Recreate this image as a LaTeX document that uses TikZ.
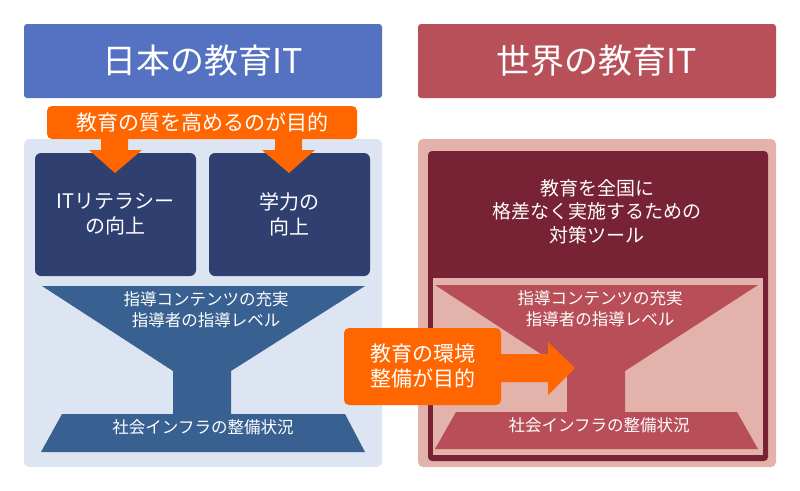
\documentclass[tikz,border=0pt]{standalone}
\usepackage{fontspec}
\setmainfont{Noto Sans CJK JP}
\definecolor{hblue}{HTML}{5472C1}
\definecolor{hred}{HTML}{B8505A}
\definecolor{lpanel}{HTML}{DCE5F1}
\definecolor{rpanel}{HTML}{E3B2AA}
\definecolor{navy}{HTML}{2E3F70}
\definecolor{fblue}{HTML}{386091}
\definecolor{maroon}{HTML}{782236}
\definecolor{fred}{HTML}{B84F58}
\definecolor{orng}{HTML}{FF6600}
\tikzset{
  hdr/.style={rectangle, rounded corners=3pt, text=white, inner sep=0pt,
    minimum width=358pt, minimum height=74pt, font=\fontsize{34}{40}\selectfont},
  panel/.style={rectangle, rounded corners=5pt, inner sep=0pt, minimum width=358pt, minimum height=328pt},
  darkbox/.style={rectangle, rounded corners=6pt, fill=navy, text=white, inner sep=0pt,
    minimum width=161pt, minimum height=123pt, align=center, font=\fontsize{20}{25}\selectfont},
  ftext/.style={text=white, inner sep=0pt, font=\fontsize{16.5}{20}\selectfont},
  obox/.style={rectangle, rounded corners=5pt, fill=orng, text=white, inner sep=0pt},
  blockarrow/.style={fill=orng},
}
\begin{document}
\begin{tikzpicture}[x=1pt,y=-1pt]
\useasboundingbox (0,0) rectangle (800,490);
% headers
\node[hdr, fill=hblue] (jp) at (203,61) {日本の教育IT};
\node[hdr, fill=hred] (world) at (597,61) {世界の教育IT};
% left side
\node[panel, fill=lpanel] (lpan) at (203,303) {};
\node[darkbox] (lit) at (115.5,214.5) {ITリテラシー\\の向上};
\node[darkbox] (lgk) at (289.5,214.5) {学力の\\向上};
\fill[fblue] (42,286) -- (365,286) -- (231,371) -- (231,414) -- (345,414) -- (365,452)
  -- (41,452) -- (62,414) -- (173,414) -- (173,371) -- cycle;
\node[ftext] (lf1) at (206,299) {指導コンテンツの充実};
\node[ftext] (lf2) at (206,320) {指導者の指導レベル};
\node[ftext] (lf3) at (203,427) {社会インフラの整備状況};
% top orange label and arrows
\node[obox, minimum width=310pt, minimum height=33pt, font=\fontsize{21}{25}\selectfont] (goal) at (202,122.5) {教育の質を高めるのが目的};
\coordinate (t1) at (115,173);
\coordinate (t2) at (289,173);
\fill[blockarrow] (101,138) -- (128,138) -- (128,150) -- (142,150) -- (t1) -- (89,150) -- (101,150) -- cycle;
\fill[blockarrow] (275,138) -- (302,138) -- (302,150) -- (315,150) -- (t2) -- (262,150) -- (275,150) -- cycle;
% right side
\node[panel, fill=rpanel] (rpan) at (597,303) {};
\fill[maroon, rounded corners=4pt] (428,151) rectangle (768,461);
\fill[rpanel] (433,278) rectangle (763,455);
\node[text=white, inner sep=0pt, align=center, font=\fontsize{19}{23.5}\selectfont] (rtool) at (597,211.5) {教育を全国に\\格差なく実施するための\\対策ツール};
\fill[fred] (435,285) -- (758,285) -- (625,371) -- (625,412) -- (737,412) -- (758,449)
  -- (435,449) -- (456,412) -- (567,412) -- (567,371) -- cycle;
\node[ftext] (rf1) at (600,298) {指導コンテンツの充実};
\node[ftext] (rf2) at (600,319) {指導者の指導レベル};
\node[ftext] (rf3) at (599,425) {社会インフラの整備状況};
% callout
\coordinate (ctip) at (575,368);
\fill[blockarrow] (495,354) -- (548,354) -- (548,342) -- (ctip) -- (548,395) -- (548,382) -- (495,382) -- cycle;
\node[obox, minimum width=157pt, minimum height=77pt, align=left, font=\fontsize{21}{25}\selectfont] (env) at (422.5,366.5) {教育の環境\\整備が目的};
\end{tikzpicture}
\end{document}
